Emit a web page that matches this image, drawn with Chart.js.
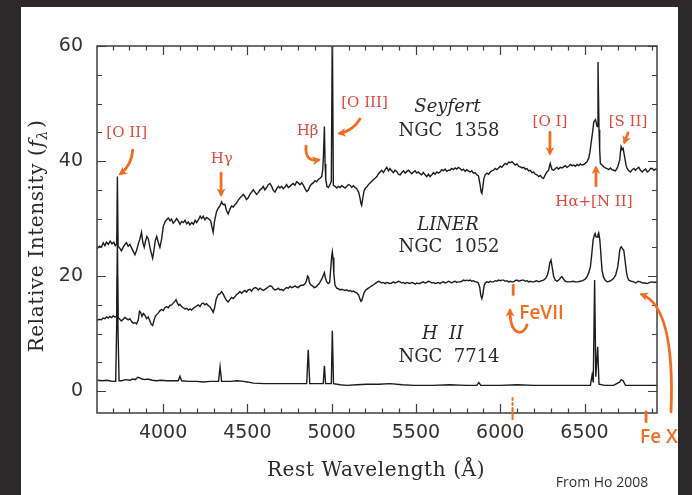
<!DOCTYPE html>
<html><head><meta charset="utf-8">
<script src="https://cdn.jsdelivr.net/npm/chart.js@4/dist/chart.umd.min.js"></script>
<style>
html,body{margin:0;padding:0;background:#2c292b;overflow:hidden;}
canvas{display:block;}
</style></head><body>
<canvas id="c" width="692" height="495"></canvas>
<script>
// Optical spectra of three nearby galaxy nuclei (relative f_lambda vs rest wavelength)
const xTickLabels = [4000, 4500, 5000, 5500, 6000, 6500];
const yTickLabels = [0, 20, 40, 60];
const xMinorStep = 100;
const yMinorStep = 5;

// Seyfert: NGC 1358
const seyfertWave = [3610,3622,3634,3645,3655,3664,3675,3686,3697,3708,3716,3725,3729,3733,3742,3753,3763,3773,3783,3793,3803,3813,3823,3833,3843,3853,3862,3872,3880,3888,3896,3904,3912,3922,3930,3938,3946,3954,3962,3972,3981,3991,4001,4011,4021,4031,4041,4050,4060,4070,4080,4090,4100,4110,4120,4130,4140,4150,4159,4170,4180,4190,4199,4210,4220,4229,4238,4248,4258,4268,4282,4290,4297,4305,4317,4327,4337,4347,4356,4366,4376,4386,4396,4406,4416,4426,4436,4446,4456,4466,4476,4486,4495,4505,4515,4525,4535,4545,4555,4565,4575,4585,4594,4604,4614,4624,4634,4644,4654,4664,4674,4684,4693,4703,4713,4723,4733,4743,4753,4763,4772,4782,4792,4802,4812,4822,4832,4842,4852,4861,4871,4881,4891,4901,4911,4921,4931,4941,4947,4951,4957,4961,4965,4972,4980,4990,4998,5004,5010,5020,5030,5040,5050,5060,5070,5080,5090,5100,5109,5119,5129,5139,5149,5160,5168,5174,5178,5184,5192,5200,5208,5218,5228,5238,5248,5258,5268,5278,5287,5297,5307,5317,5327,5337,5346,5356,5366,5376,5386,5396,5406,5416,5426,5436,5446,5456,5465,5475,5485,5495,5505,5514,5524,5534,5544,5554,5564,5574,5584,5594,5604,5614,5624,5634,5643,5653,5663,5673,5683,5693,5702,5712,5722,5732,5742,5752,5762,5772,5782,5792,5801,5811,5821,5831,5841,5851,5861,5871,5880,5887,5891,5897,5903,5911,5921,5931,5941,5950,5960,5970,5980,5990,6000,6010,6020,6030,6040,6050,6059,6069,6079,6089,6099,6109,6119,6129,6139,6149,6159,6168,6178,6188,6198,6208,6218,6228,6238,6247,6257,6267,6277,6287,6293,6297,6302,6308,6317,6327,6337,6346,6356,6366,6376,6386,6396,6406,6416,6426,6436,6446,6456,6466,6475,6485,6495,6505,6515,6525,6532,6539,6547,6555,6565,6575,6580,6586,6590,6594,6604,6614,6624,6634,6644,6654,6663,6673,6683,6690,6697,6703,6709,6713,6717,6723,6729,6735,6741,6747,6753,6763,6773,6783,6793,6802,6812,6822,6832,6842,6852,6862,6872,6882,6892,6902,6912,6922,6930];
const seyfertFlux = [24.8,25.2,25.0,25.8,25.3,25.9,25.5,26.1,25.6,25.9,25.3,25.6,37.3,25.2,24.9,24.4,25.0,25.5,25.8,25.2,25.5,24.9,24.3,23.7,24.5,25.6,26.4,27.6,25.8,25.0,26.1,26.9,26.5,25.0,24.0,23.1,24.5,26.2,26.9,25.8,25.0,26.4,28.6,29.4,29.8,30.1,29.6,29.9,29.2,29.5,30.0,29.6,29.0,29.5,29.3,29.7,29.1,29.4,28.9,29.3,29.0,29.7,29.3,29.8,30.4,30.0,30.4,29.8,30.2,30.0,29.6,28.5,27.6,29.5,31.2,31.8,32.2,32.9,32.4,32.5,31.4,30.8,31.6,32.2,32.0,32.4,32.7,33.2,33.6,33.9,34.2,33.8,33.3,33.6,34.2,34.6,35.0,34.6,34.2,34.5,35.0,35.2,35.6,35.0,35.4,35.9,36.1,35.6,34.9,34.6,35.2,35.6,35.3,35.6,35.2,35.5,35.9,35.4,35.6,35.9,36.1,35.8,36.4,36.2,35.9,36.2,35.8,35.2,34.7,34.9,35.6,36.0,36.2,36.6,36.4,36.8,37.0,37.3,38.5,40.7,46.0,39.5,36.8,35.6,35.4,35.9,36.5,64.0,35.8,35.6,35.3,35.6,35.4,35.7,35.5,35.3,35.6,35.9,35.8,35.4,35.7,35.4,35.2,34.6,33.6,32.6,32.3,33.4,34.8,35.3,35.5,35.9,36.2,36.5,36.8,37.0,37.3,37.8,38.1,38.4,38.0,38.5,38.9,38.3,38.7,38.3,38.0,38.4,38.2,37.7,37.6,38.0,38.3,37.9,38.2,38.4,38.1,37.8,38.1,38.3,37.9,38.1,37.8,37.6,38.0,37.6,37.3,37.7,37.3,37.6,38.0,37.7,38.1,37.9,38.1,38.5,38.3,38.6,38.2,38.4,38.4,38.7,38.5,38.8,38.6,38.9,38.7,38.4,38.6,38.2,38.5,38.3,38.1,38.3,37.9,38.0,37.6,37.4,36.0,34.6,34.4,35.5,37.0,37.6,37.9,37.7,38.1,38.3,38.4,38.7,38.5,38.8,39.1,38.9,39.3,39.6,39.4,39.8,39.7,39.9,39.6,39.3,39.5,39.1,39.0,38.8,38.9,38.6,38.7,38.3,38.4,38.0,38.1,37.7,37.6,37.3,37.5,37.1,37.0,37.6,38.1,38.4,39.2,39.6,39.0,38.5,38.4,38.7,38.9,38.6,38.9,38.8,39.0,39.2,38.9,39.1,39.4,39.2,39.3,39.1,39.4,39.2,39.5,39.3,39.4,39.6,39.9,40.5,41.5,43.1,44.8,46.8,47.2,46.0,57.2,45.4,42.0,39.6,39.3,39.0,38.8,38.7,38.5,38.8,38.5,38.4,38.3,38.6,39.0,39.6,40.2,41.5,42.5,42.0,42.2,41.2,40.2,39.2,38.7,38.3,38.1,38.5,38.7,38.4,38.7,38.9,38.4,38.1,38.4,38.6,38.1,38.3,38.7,38.7,38.4,38.6,38.5];

// LINER: NGC 1052
const linerWave = [3610,3622,3634,3644,3655,3665,3675,3683,3695,3705,3713,3725,3729,3733,3743,3753,3763,3773,3783,3793,3803,3813,3823,3833,3843,3853,3860,3867,3875,3883,3892,3902,3912,3922,3930,3938,3946,3954,3962,3972,3982,3991,4001,4011,4021,4031,4041,4051,4060,4070,4077,4085,4093,4100,4110,4120,4130,4140,4150,4160,4169,4179,4189,4199,4209,4219,4229,4238,4248,4258,4268,4280,4290,4297,4305,4315,4327,4337,4347,4356,4366,4376,4386,4396,4406,4416,4426,4436,4446,4456,4466,4476,4486,4495,4505,4515,4525,4535,4545,4555,4565,4575,4584,4594,4604,4614,4624,4634,4644,4654,4664,4674,4684,4693,4703,4713,4723,4733,4743,4753,4763,4772,4782,4792,4802,4812,4822,4832,4845,4852,4857,4863,4868,4876,4886,4896,4906,4916,4926,4936,4945,4951,4957,4962,4971,4980,4988,4995,5000,5004,5008,5013,5020,5030,5040,5050,5060,5070,5080,5089,5099,5109,5119,5129,5139,5149,5160,5168,5174,5178,5185,5192,5200,5208,5218,5228,5238,5248,5258,5268,5278,5287,5297,5307,5317,5327,5337,5346,5356,5366,5376,5386,5396,5406,5416,5426,5436,5446,5456,5465,5475,5485,5495,5505,5514,5524,5534,5544,5554,5564,5574,5584,5594,5604,5614,5624,5634,5643,5653,5663,5673,5683,5693,5702,5712,5722,5732,5742,5752,5762,5772,5782,5792,5801,5811,5821,5831,5841,5851,5861,5870,5878,5885,5891,5897,5904,5911,5921,5931,5941,5950,5960,5970,5980,5990,6000,6010,6020,6030,6040,6050,6059,6069,6079,6089,6099,6109,6119,6129,6139,6149,6159,6168,6178,6188,6198,6208,6218,6228,6238,6247,6257,6270,6280,6287,6294,6301,6308,6317,6327,6337,6350,6360,6366,6372,6386,6400,6415,6430,6445,6460,6475,6490,6505,6515,6525,6535,6543,6551,6557,6563,6569,6575,6580,6584,6590,6594,6599,6604,6612,6622,6634,6648,6660,6673,6685,6697,6704,6709,6714,6719,6726,6733,6741,6749,6756,6763,6778,6793,6805,6818,6832,6845,6858,6872,6887,6902,6916,6930];
const linerFlux = [12.3,12.5,12.4,12.7,12.6,12.9,12.7,13.0,12.8,13.1,12.9,13.0,27.0,12.8,12.5,12.2,12.5,12.8,12.6,12.4,12.6,12.1,11.8,11.9,11.7,12.4,13.9,13.7,13.0,13.5,13.2,12.6,12.9,12.2,11.6,11.4,12.3,13.0,13.3,13.6,14.0,14.2,14.0,14.5,14.7,14.5,14.9,15.0,15.3,15.6,15.9,15.3,14.9,15.1,14.7,14.5,14.3,14.4,14.1,14.3,14.1,14.4,14.6,14.8,15.0,14.7,15.2,15.3,15.0,15.2,14.9,14.6,14.1,13.7,14.4,16.0,16.8,16.9,17.3,16.9,16.3,15.8,15.5,15.9,16.3,16.1,16.4,16.8,17.0,17.3,17.0,17.3,17.5,17.2,17.6,17.7,17.4,17.8,18.0,17.9,17.6,17.9,17.7,17.5,17.7,17.9,18.1,18.3,18.2,17.8,17.6,17.7,17.9,17.6,17.7,17.5,17.8,18.0,17.9,18.2,18.0,18.1,18.3,18.1,18.0,18.3,18.4,18.4,18.8,19.3,20.0,19.8,18.9,18.5,18.3,18.0,18.1,18.4,18.7,19.2,19.7,20.2,20.6,19.8,19.0,18.7,18.9,21.5,23.4,24.2,23.2,20.4,18.4,17.9,17.8,17.6,17.7,17.6,17.5,17.6,17.4,17.5,17.3,17.4,17.2,17.1,16.7,16.0,15.6,15.7,16.4,17.1,17.5,17.7,17.9,18.1,18.3,18.5,18.7,18.9,19.1,19.0,18.8,18.9,18.7,18.9,18.8,18.7,18.8,19.0,18.8,18.9,19.1,19.0,18.8,18.9,18.7,18.9,18.8,18.7,18.9,18.8,18.6,18.8,18.7,18.7,18.9,19.0,18.8,18.9,19.1,19.0,18.8,18.9,18.7,18.8,18.9,18.7,18.9,19.0,18.8,18.9,19.1,19.0,18.8,19.0,19.1,18.9,19.0,19.0,19.1,19.3,19.2,19.3,19.2,19.3,19.1,19.2,19.0,19.0,18.8,18.1,16.6,16.1,16.8,18.3,18.8,19.0,18.9,19.1,19.0,19.0,19.2,19.1,19.3,19.2,19.3,19.3,19.1,19.2,19.0,19.1,19.0,19.0,19.2,19.3,19.1,19.2,19.3,19.3,19.1,19.2,19.0,19.1,19.0,19.0,19.1,19.2,19.0,19.1,19.2,19.3,19.6,20.2,21.0,22.3,22.8,21.6,19.9,19.3,19.1,19.4,19.8,19.9,19.6,19.1,19.0,19.0,19.1,19.0,19.0,19.1,19.2,19.5,19.9,20.6,21.6,23.8,26.3,27.0,27.4,26.8,26.8,27.2,27.5,26.5,25.1,23.0,21.0,19.9,19.3,19.0,19.1,19.3,19.6,20.2,21.6,23.2,24.5,25.0,25.1,24.7,24.5,22.6,20.7,19.7,19.3,19.1,19.0,18.8,19.1,19.0,18.8,18.8,18.7,18.9,19.0,18.9,19.0];

// H II nucleus: NGC 7714
const h2Wave = [3610,3640,3665,3683,3700,3719,3725,3729,3733,3739,3753,3780,3803,3820,3835,3850,3862,3875,3892,3910,3935,3962,3990,4021,4050,4090,4100,4110,4150,4200,4238,4280,4329,4338,4347,4400,4440,4476,4500,4535,4600,4654,4700,4753,4800,4852,4861,4870,4950,4957,4964,4998,5004,5011,5050,5089,5150,5208,5280,5347,5420,5485,5600,5700,5800,5861,5873,5885,6000,6100,6200,6277,6400,6535,6545,6552,6560,6567,6578,6586,6620,6673,6709,6717,6729,6743,6800,6870,6930];
const h2Flux = [1.9,1.8,1.9,1.8,1.7,1.7,12.0,20.0,10.0,1.8,1.8,2.0,1.9,2.1,2.0,2.4,2.3,2.1,2.0,2.1,1.9,1.8,1.9,1.8,1.8,1.8,2.6,1.8,1.7,1.7,1.6,1.7,1.7,4.2,1.7,1.7,1.8,1.7,1.6,1.4,1.3,1.3,1.3,1.3,1.3,1.3,7.2,1.3,1.3,4.4,1.3,1.3,10.5,1.3,1.1,1.0,1.1,1.2,1.2,1.3,1.1,1.0,1.0,1.1,1.0,1.0,1.5,1.0,1.0,1.1,1.0,1.0,1.0,1.0,2.8,1.5,19.3,2.5,7.7,1.2,1.0,1.0,1.6,2.0,1.8,1.0,1.0,1.0,1.0];

// Text placed in data units [wavelength, intensity]
const lineLabels = [
  ['[O II]', 3784, 44.8], ['H\u03b3', 4348, 40.3], ['H\u03b2', 4857, 45.2],
  ['[O III]', 5195, 50.0], ['[O I]', 6295, 46.8], ['[S II]', 6758, 46.8],
  ['H\u03b1+[N II]', 6556, 32.9]
];
const classLabels = [
  ['Seyfert', 5687, 49.3, true], ['NGC  1358', 5696, 45.1, false],
  ['LINER', 5690, 28.9, true], ['NGC  1052', 5696, 25.0, false],
  ['H  II', 5658, 9.9, true], ['NGC  7714', 5696, 5.8, false]
];

const toPts = (w, f) => w.map((x, i) => ({x, y: f[i]}));
const spec = (label, w, f) => ({label, data: toPts(w, f), borderColor: '#1c1c1c', borderWidth: 1.4,
  pointRadius: 0, tension: 0, fill: false});

const ORANGE = '#f26d21';

function arrowHead(ctx, x, y, ang, size) {
  ctx.save();
  ctx.translate(x, y); ctx.rotate(ang);
  ctx.beginPath();
  ctx.moveTo(size * 0.4, 0);
  ctx.lineTo(-size, -size * 0.75);
  ctx.lineTo(-size * 0.6, 0);
  ctx.lineTo(-size, size * 0.75);
  ctx.closePath();
  ctx.fill();
  ctx.restore();
}

const decor = {
  id: 'decor',
  beforeDraw(chart) {
    const ctx = chart.ctx;
    ctx.save();
    ctx.fillStyle = '#2c292b';
    ctx.fillRect(0, 0, chart.width, chart.height);
    ctx.fillStyle = '#ffffff';
    ctx.fillRect(21, 7, 657, 488);
    ctx.restore();
  },
  afterDraw(chart) {
    const ctx = chart.ctx, xs = chart.scales.x, ys = chart.scales.y;
    const {left, right, top, bottom} = chart.chartArea;
    const P = (w, v) => [xs.getPixelForValue(w), ys.getPixelForValue(v)];
    ctx.save();
    // frame with inward ticks on all four sides
    ctx.strokeStyle = '#3f3f3f';
    ctx.lineWidth = 1.5;
    ctx.strokeRect(left, top, right - left, bottom - top);
    ctx.lineWidth = 1.2;
    ctx.beginPath();
    for (let w = Math.ceil(xs.min / xMinorStep) * xMinorStep; w <= xs.max; w += xMinorStep) {
      const x = Math.round(xs.getPixelForValue(w)) + 0.5;
      const len = xTickLabels.includes(w) ? 9 : 4.5;
      ctx.moveTo(x, bottom); ctx.lineTo(x, bottom - len);
      ctx.moveTo(x, top); ctx.lineTo(x, top + len);
    }
    for (let v = 0; v <= ys.max; v += yMinorStep) {
      const y = Math.round(ys.getPixelForValue(v)) + 0.5;
      const len = yTickLabels.includes(v) ? 9 : 5;
      ctx.moveTo(left, y); ctx.lineTo(left + len, y);
      ctx.moveTo(right, y); ctx.lineTo(right - len, y);
    }
    ctx.stroke();

    // axis titles
    ctx.fillStyle = '#2a2a2a';
    ctx.textBaseline = 'middle';
    ctx.letterSpacing = '0.6px';
    ctx.font = '20px "DejaVu Serif"';
    ctx.textAlign = 'center';
    ctx.fillText('Rest Wavelength (\u00c5)', 376, 471);
    ctx.save();
    ctx.translate(38, 236);
    ctx.rotate(-Math.PI / 2);
    const a = 'Relative Intensity (', b = 'f', c = '\u03bb', d = ')';
    ctx.font = '20px "DejaVu Serif"';
    const wa = ctx.measureText(a).width, wd = ctx.measureText(d).width;
    ctx.font = 'italic 20px "DejaVu Serif"';
    const wb = ctx.measureText(b).width;
    ctx.font = 'italic 14px "DejaVu Serif"';
    const wc = ctx.measureText(c).width;
    let x0 = -(wa + wb + wc + wd + 2) / 2;
    ctx.textAlign = 'left';
    ctx.font = '20px "DejaVu Serif"'; ctx.fillText(a, x0, 0); x0 += wa;
    ctx.font = 'italic 20px "DejaVu Serif"'; ctx.fillText(b, x0, 0); x0 += wb;
    ctx.font = 'italic 14px "DejaVu Serif"'; ctx.fillText(c, x0, 5); x0 += wc + 2;
    ctx.font = '20px "DejaVu Serif"'; ctx.fillText(d, x0, 0);
    ctx.restore();
    ctx.letterSpacing = '0px';

    // class / galaxy labels
    ctx.textAlign = 'center';
    classLabels.forEach(([t, w, v, it]) => {
      ctx.font = (it ? 'italic ' : '') + '18px "DejaVu Serif"';
      const [x, y] = P(w, v);
      ctx.fillText(t, x, y);
    });

    // emission line names
    ctx.fillStyle = '#de4a3d';
    ctx.font = '15px "DejaVu Serif"';
    lineLabels.forEach(([t, w, v]) => {
      const [x, y] = P(w, v);
      ctx.fillText(t, x, y);
    });

    // hand-drawn arrows and notes
    ctx.strokeStyle = ORANGE; ctx.fillStyle = ORANGE;
    ctx.lineWidth = 2.8; ctx.lineCap = 'round';
    const curve = (pts, head) => {
      const p = pts.map(q => P(q[0], q[1]));
      ctx.beginPath();
      ctx.moveTo(p[0][0], p[0][1]);
      if (p.length === 2) ctx.lineTo(p[1][0], p[1][1]);
      else if (p.length === 3) ctx.quadraticCurveTo(p[1][0], p[1][1], p[2][0], p[2][1]);
      else ctx.bezierCurveTo(p[1][0], p[1][1], p[2][0], p[2][1], p[3][0], p[3][1]);
      ctx.stroke();
      if (head) {
        const e = p[p.length - 1], s = p[p.length - 2];
        arrowHead(ctx, e[0], e[1], Math.atan2(e[1] - s[1], e[0] - s[0]), 6);
      }
    };
    curve([[3820, 41.9], [3812, 39.2], [3748, 37.8]], true);   // [O II]
    curve([[4344, 37.9], [4344, 34.2]], true);                  // H gamma
    curve([[4848, 42.6], [4840, 39.8], [4922, 40.2]], true);    // H beta
    curve([[5168, 47.3], [5125, 45.2], [5048, 44.8]], true);    // [O III]
    curve([[6295, 45.0], [6295, 41.4]], true);                  // [O I]
    curve([[6758, 44.9], [6738, 43.3]], true);                  // [S II]
    curve([[6568, 35.7], [6568, 38.8]], true);                  // H alpha
    curve([[6077, 18.4], [6077, 16.8]], false);                 // Fe VII mark
    curve([[6159, 11.5], [6141, 9.6], [6058, 9.4], [6058, 14.0]], true);
    curve([[7013, -3.6], [7030, 8.9], [6968, 15.4], [6840, 16.8]], true);
    curve([[6865, -3.6], [6865, -5.3]], false);                 // Fe X mark
    ctx.setLineDash([2, 3]);
    ctx.lineWidth = 2;
    curve([[6073, -1.2], [6073, -3.2]], false);
    ctx.setLineDash([]);
    curve([[6073, -3.3], [6073, -4.9]], false);

    ctx.font = '600 19px "Open Sans"';
    ctx.textAlign = 'center';
    let [fx, fy] = P(6245, 13.5);
    ctx.fillText('FeVII', fx, fy);
    [fx, fy] = P(6942, -8.1);
    ctx.fillText('Fe X', fx, fy);

    ctx.fillStyle = '#333';
    ctx.font = '14px "Open Sans"';
    ctx.fillText('From Ho 2008', 602, 483);
    ctx.restore();
  }
};

new Chart(document.getElementById('c'), {
  type: 'line',
  data: {
    datasets: [
      spec('NGC 1358', seyfertWave, seyfertFlux),
      spec('NGC 1052', linerWave, linerFlux),
      spec('NGC 7714', h2Wave, h2Flux)
    ]
  },
  options: {
    responsive: false,
    animation: false,
    devicePixelRatio: 1,
    layout: {padding: {left: 0, right: 35, top: 46, bottom: 0}},
    plugins: {legend: {display: false}, tooltip: {enabled: false}},
    scales: {
      x: {
        type: 'linear', min: 3608, max: 6930,
        grid: {display: false, drawTicks: false}, border: {display: false},
        afterBuildTicks: s => { s.ticks = xTickLabels.map(v => ({value: v})); },
        afterFit: s => { s.height = 82; },
        ticks: {font: {family: 'DejaVu Sans', size: 19}, color: '#333', padding: 9,
          maxRotation: 0, autoSkip: false, callback: v => String(v)}
      },
      y: {
        type: 'linear', min: -3.8, max: 60,
        grid: {display: false, drawTicks: false}, border: {display: false},
        afterBuildTicks: s => { s.ticks = yTickLabels.map(v => ({value: v})); },
        afterFit: s => { s.width = 97; },
        ticks: {font: {family: 'DejaVu Sans', size: 19}, color: '#333', padding: 14,
          callback: v => String(v)}
      }
    }
  },
  plugins: [decor]
});
</script>
</body></html>
